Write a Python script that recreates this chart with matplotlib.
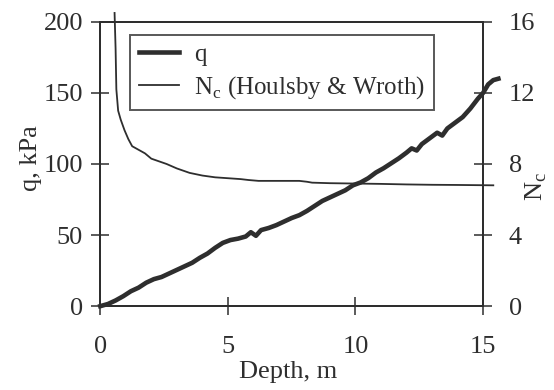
import matplotlib
matplotlib.use("Agg")
import matplotlib.pyplot as plt

plt.rcParams["font.family"] = ["Liberation Serif", "DejaVu Serif"]
plt.rcParams["mathtext.fontset"] = "custom"
plt.rcParams["mathtext.rm"] = "Liberation Serif"

# q 曲線 (kPa)
depth_q = [0.0, 0.3, 0.6, 0.9, 1.2, 1.5, 1.8, 2.1, 2.4, 2.7, 3.0, 3.3, 3.6, 3.9,
           4.2, 4.5, 4.8, 5.1, 5.4, 5.7, 5.9, 6.1, 6.3, 6.6, 6.9, 7.2, 7.5, 7.8,
           8.1, 8.4, 8.7, 9.0, 9.3, 9.6, 9.9, 10.2, 10.5, 10.8, 11.1, 11.4, 11.7,
           12.0, 12.2, 12.4, 12.6, 12.9, 13.2, 13.4, 13.6, 13.9, 14.2, 14.5, 14.8,
           15.0, 15.2, 15.4, 15.6]
q = [0, 1.5, 4, 7, 10.5, 13, 16.5, 19, 20.5, 23, 25.5, 28, 30.5, 34,
     37, 41, 44.5, 46.5, 47.5, 49, 52, 49.5, 53.5, 55, 57, 59.5, 62, 64,
     67, 70.5, 74, 76.5, 79, 81.5, 85, 87, 90, 94, 97, 100.5, 104,
     108, 111, 109.5, 114, 118, 122, 120, 125, 129, 133, 139, 146,
     150, 156, 159, 160]

# Nc (Houlsby & Wroth)
depth_nc = [0.56, 0.60, 0.63, 0.70, 0.80, 0.95, 1.1, 1.25, 1.5, 1.75, 2.0, 2.3,
            2.6, 3.0, 3.5, 4.0, 4.5, 5.0, 5.5, 5.8, 6.2, 7.0, 7.8, 8.1, 8.3, 9.0,
            10.0, 11.0, 12.0, 13.0, 14.0, 15.4]
nc = [16.5, 14.5, 12.2, 11.0, 10.5, 9.9, 9.4, 9.0, 8.8, 8.6, 8.3, 8.15,
      8.0, 7.75, 7.5, 7.35, 7.25, 7.2, 7.15, 7.1, 7.05, 7.05, 7.05, 7.0, 6.95, 6.92,
      6.9, 6.88, 6.85, 6.83, 6.82, 6.8]

x_ticks = [0, 5, 10, 15]
q_ticks = [0, 50, 100, 150, 200]
nc_ticks = [0, 4, 8, 12, 16]

ink = "#2e2e2e"
fs = 19

fig = plt.figure(figsize=(5.54, 3.90), dpi=100)
ax = fig.add_axes([0.181, 0.215, 0.691, 0.729])
ax2 = ax.twinx()

l1, = ax.plot(depth_q, q, color=ink, lw=3.3, clip_on=False, label="q")
l2, = ax2.plot(depth_nc, nc, color=ink, lw=1.3, clip_on=False,
               label=r"N$_\mathrm{c}$ (Houlsby & Wroth)")

ax.set_xlim(0, 15)
ax.set_ylim(0, 200)
ax2.set_ylim(0, 16)
ax.set_xticks(x_ticks)
ax.set_yticks(q_ticks)
ax2.set_yticks(nc_ticks)

for a in (ax, ax2):
    for s in a.spines.values():
        s.set_linewidth(1.4)
        s.set_color(ink)
ax.tick_params(axis="both", direction="inout", length=13, width=1.1, color=ink,
               labelsize=fs, labelcolor=ink)
ax.tick_params(axis="x", pad=15)
ax.tick_params(axis="y", pad=6)
ax2.tick_params(axis="y", direction="inout", length=13, width=1.1, color=ink,
                labelsize=fs, labelcolor=ink, pad=12)

ax.set_ylabel("q, kPa", fontsize=fs, color=ink, va="center")
ax.yaxis.set_label_coords(-0.18, 0.52)
ax.set_xlabel("Depth, m", fontsize=fs, color=ink, va="center")
ax.xaxis.set_label_coords(0.49, -0.23)
ax2.set_ylabel(r"N$_\mathrm{c}$", fontsize=fs, color=ink, rotation=90, va="center")
ax2.yaxis.set_label_coords(1.14, 0.42)

leg = ax.legend(handles=[l1, l2], loc="upper left", bbox_to_anchor=(0.078, 0.955),
                borderaxespad=0, fontsize=18, frameon=True, fancybox=False,
                handlelength=1.6, handletextpad=0.6, labelspacing=0.35,
                borderpad=0.35)
leg.get_frame().set_edgecolor(ink)
leg.get_frame().set_linewidth(1.4)
for t in leg.get_texts():
    t.set_color(ink)

plt.savefig("out.png", dpi=100)
